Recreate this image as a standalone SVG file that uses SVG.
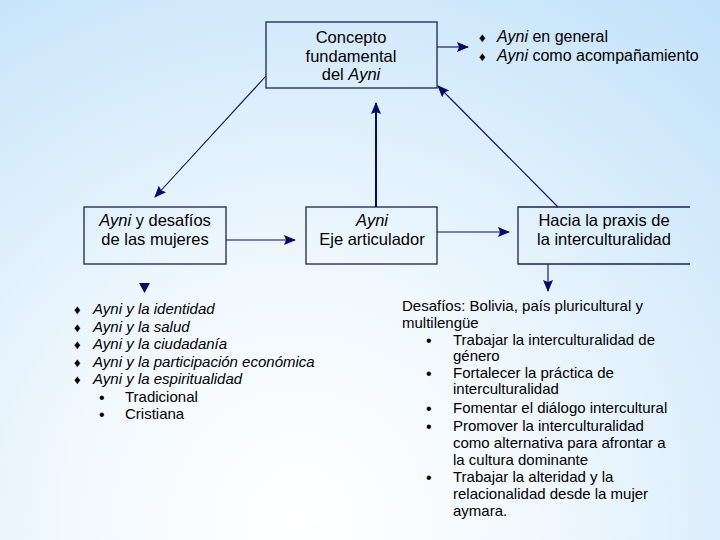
<svg xmlns="http://www.w3.org/2000/svg" width="720" height="540" viewBox="0 0 720 540">
<defs>
<radialGradient id="bg" cx="300" cy="520" r="650" gradientUnits="userSpaceOnUse">
<stop offset="0" stop-color="#ffffff"/>
<stop offset="0.35" stop-color="#f2f9fe"/>
<stop offset="1" stop-color="#c2e2f9"/>
</radialGradient>
<marker id="ah" viewBox="0 0 12 10" refX="11" refY="5" markerWidth="12" markerHeight="10" markerUnits="userSpaceOnUse" orient="auto">
<path d="M0,0 L12,5 L0,10 L2,5 Z" fill="#0a0a6a"/>
</marker>
</defs>
<style>
.box{fill:none;stroke:#1c2060;stroke-width:1.3}
.t{font-family:"Liberation Sans",Arial,sans-serif;fill:#000}
.c{text-anchor:middle;font-size:16.5px}
.l{font-size:15px}
.i{font-style:italic}
.ln{stroke:#0a0a6a;stroke-width:1.1;fill:none}
.dm{font-size:13px}
.dt{font-size:16px}
</style>
<rect x="0" y="0" width="720" height="540" fill="url(#bg)"/>

<g id="connectors">
<line class="ln" x1="437" y1="47" x2="468" y2="47" marker-end="url(#ah)"/>
<line class="ln" x1="266" y1="76" x2="155" y2="197" marker-end="url(#ah)"/>
<line class="ln" x1="376" y1="207" x2="376" y2="103" marker-end="url(#ah)" style="stroke-width:2"/>
<line class="ln" x1="558" y1="207" x2="438" y2="86" marker-end="url(#ah)"/>
<line class="ln" x1="226" y1="240" x2="295" y2="240" marker-end="url(#ah)"/>
<line class="ln" x1="437" y1="232" x2="509" y2="232" marker-end="url(#ah)"/>
<line class="ln" x1="548" y1="264" x2="548" y2="291" marker-end="url(#ah)"/>
<path d="M139,283 L150,283 L144.5,293 Z" fill="#0a0a6a"/>
</g>

<g id="concepto">
<rect class="box" x="266" y="22" width="171" height="66"/>
<text class="t c" x="351" y="43">Concepto</text>
<text class="t c" x="351" y="62">fundamental</text>
<text class="t c" x="351" y="80">del <tspan class="i">Ayni</tspan></text>
</g>

<g id="ayni-general">
<text class="t dm" x="479" y="42">♦</text>
<text class="t" x="497" y="42" style="font-size:16px"><tspan class="i">Ayni</tspan> en general</text>
<text class="t dm" x="479" y="61">♦</text>
<text class="t" x="497" y="61" style="font-size:16px"><tspan class="i">Ayni</tspan> como acompañamiento</text>
</g>

<g id="desafios-mujeres">
<rect class="box" x="84" y="207" width="142" height="57"/>
<text class="t c" x="155" y="226"><tspan class="i">Ayni</tspan> y desafíos</text>
<text class="t c" x="155" y="245">de las mujeres</text>
</g>

<g id="eje">
<rect class="box" x="306" y="207" width="131" height="57"/>
<text class="t c i" x="372" y="226">Ayni</text>
<text class="t c" x="372" y="245">Eje articulador</text>
</g>

<g id="praxis">
<path class="box" d="M690,207 L518,207 L518,264 L690,264"/>
<text class="t c" x="604" y="226">Hacia la praxis de</text>
<text class="t c" x="604" y="245">la interculturalidad</text>
</g>

<g id="lista-mujeres">
<g class="t dm">
<text x="74" y="314">♦</text>
<text x="74" y="332">♦</text>
<text x="74" y="349">♦</text>
<text x="74" y="367">♦</text>
<text x="74" y="384">♦</text>
</g>
<g class="t dt">
<text x="99" y="403">•</text>
<text x="99" y="420">•</text>
</g>
<g class="t l i">
<text x="93" y="314">Ayni y la identidad</text>
<text x="93" y="332">Ayni y la salud</text>
<text x="93" y="349">Ayni y la ciudadanía</text>
<text x="93" y="367">Ayni y la participación económica</text>
<text x="93" y="384">Ayni y la espiritualidad</text>
</g>
<g class="t l">
<text x="125" y="402">Tradicional</text>
<text x="125" y="419">Cristiana</text>
</g>
</g>

<g id="lista-desafios">
<g class="t dt">
<text x="426" y="346">•</text>
<text x="426" y="379">•</text>
<text x="426" y="414">•</text>
<text x="426" y="432">•</text>
<text x="426" y="483">•</text>
</g>
<g class="t l">
<text x="402" y="311">Desafíos: Bolivia, país pluricultural y</text>
<text x="402" y="328">multilengüe</text>
<text x="453" y="345">Trabajar la interculturalidad de</text>
<text x="453" y="361">género</text>
<text x="453" y="378">Fortalecer la práctica de</text>
<text x="453" y="394">interculturalidad</text>
<text x="453" y="413">Fomentar el diálogo intercultural</text>
<text x="453" y="431">Promover la interculturalidad</text>
<text x="453" y="448">como alternativa para afrontar a</text>
<text x="453" y="465">la cultura dominante</text>
<text x="453" y="482">Trabajar la alteridad y la</text>
<text x="453" y="499">relacionalidad desde la mujer</text>
<text x="453" y="516">aymara.</text>
</g>
</g>
</svg>
